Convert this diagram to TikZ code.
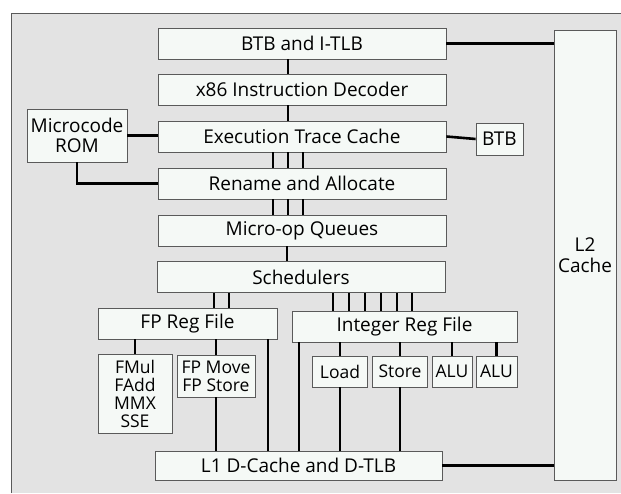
\documentclass[tikz,border=0pt]{standalone}
\usepackage{fontspec}
\setmainfont{Open Sans}
\usepackage{xcolor}
\usepackage{tikz}
\usetikzlibrary{calc}

\definecolor{panel}{HTML}{E3E3E3}
\definecolor{boxfill}{HTML}{F5F9F6}
\definecolor{boxline}{HTML}{5A5A5A}

\begin{document}
\begin{tikzpicture}[
  x=1pt, y=-1pt,
  unit/.style={
    rectangle,
    draw=boxline,
    line width=0.8pt,
    fill=boxfill,
    align=center,
    font=\fontsize{19}{20.5}\selectfont,
    inner sep=0pt
  },
  wide/.style={unit, minimum width=288, minimum height=31},
  exec/.style={unit, font=\fontsize{17.5}{18}\selectfont, minimum height=31},
  link/.style={line width=2.6pt, black}
]

\useasboundingbox (0,0) rectangle (621,493);
\fill[panel] (11,13) rectangle (621,493);
\draw[boxline, line width=0.9pt] (11,493) -- (11,13) -- (621,13);

\node[wide] (itlb) at (302,43.5) {BTB and I-TLB};
\node[wide] (decoder) at (302,89.5) {x86 Instruction Decoder};
\node[wide] (trace) at (302,136.5) {Execution Trace Cache};
\node[wide] (rename) at (302,183.5) {Rename and Allocate};
\node[wide] (uopq) at (302,230.5) {Micro-op Queues};
\node[wide] (sched) at (301,277) {Schedulers};

\node[unit, minimum width=100, minimum height=53] (ucode) at (77,135.5) {Microcode\\ROM};
\node[unit, minimum width=47, minimum height=32] (btb) at (499.5,139) {BTB};
\node[unit, minimum width=62, minimum height=450] (l2) at (585,255) {L2\\Cache};

\node[unit, minimum width=179, minimum height=31] (fpreg) at (187.5,323.5) {FP Reg File};
\node[unit, minimum width=225, minimum height=31] (intreg) at (404.5,326.5) {Integer Reg File};

\node[exec, minimum width=74, minimum height=79] (fmul) at (135,393.5) {FMul\\FAdd\\MMX\\SSE};
\node[exec, minimum width=78, minimum height=42] (fpmove) at (216,376) {FP Move\\FP Store};
\node[exec, minimum width=55] (load) at (340,371.5) {Load};
\node[exec, minimum width=55] (store) at (400,371.5) {Store};
\node[exec, minimum width=40] (alua) at (452,371.5) {ALU};
\node[exec, minimum width=41] (alub) at (496.5,371.5) {ALU};

\node[unit, minimum width=287, minimum height=29] (l1) at (298.5,465.5) {L1 D-Cache and D-TLB};

% front end
\coordinate (spine) at (288,0);
\draw[link] (itlb.south -| spine) -- (decoder.north -| spine);
\draw[link] (decoder.south -| spine) -- (trace.north -| spine);
\foreach \dx in {-15,0,15} {
  \draw[link] ($(trace.south -| spine)+(\dx,0)$) -- ($(rename.north -| spine)+(\dx,0)$);
  \draw[link] ($(rename.south -| spine)+(\dx,0)$) -- ($(uopq.north -| spine)+(\dx,0)$);
}
\draw[link] ($(uopq.south -| spine)+(-1,0)$) -- ($(sched.north -| spine)+(-1,0)$);

\draw[link] (itlb.east) -- (itlb.east -| l2.west);
\draw[link] (trace.east) -- (btb.west);
\draw[link] (ucode.east) -- (ucode.east -| trace.west);
\draw[link] (ucode.south) |- (rename.west);

% schedulers to register files
\foreach \x in {214,229} {
  \draw[link] (sched.south -| \x,0) -- (fpreg.north -| \x,0);
}
\foreach \x in {333,349,365,381,397,412} {
  \draw[link] (sched.south -| \x,0) -- (intreg.north -| \x,0);
}

% register files to units
\draw[link] (fpreg.south -| fmul.north) -- (fmul.north);
\draw[link] (fpreg.south -| fpmove.north) -- (fpmove.north);
\draw[link] (fpmove.south) -- (l1.north -| fpmove.south);
\draw[link] (fpreg.south -| 268,0) -- (l1.north -| 268,0);
\draw[link] (intreg.south -| 299,0) -- (l1.north -| 299,0);
\draw[link] (intreg.south -| load.north) -- (load.north);
\draw[link] (load.south) -- (l1.north -| load.south);
\draw[link] (intreg.south -| store.north) -- (store.north);
\draw[link] (store.south) -- (l1.north -| store.south);
\draw[link] (intreg.south -| alua.north) -- (alua.north);
\draw[link] (intreg.south -| alub.north) -- (alub.north);

\draw[link] (l1.east) -- (l1.east -| l2.west);

\end{tikzpicture}
\end{document}
